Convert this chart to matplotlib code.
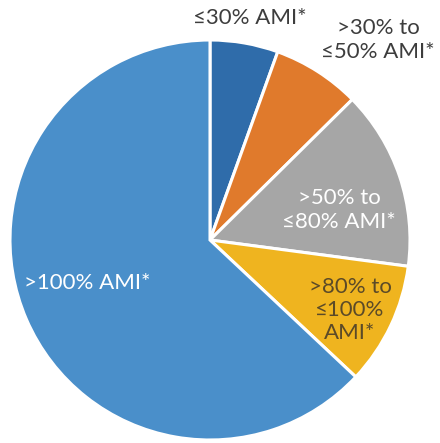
import matplotlib.pyplot as plt

# Income bands and their share (percent)
categorias = ['≤30% AMI*', '>30% to\n≤50% AMI*', '>50% to\n≤80% AMI*',
              '>80% to\n≤100%\nAMI*', '>100% AMI*']
valores = [5.5, 7.1, 14.5, 9.9, 63.0]
colores = ['#2f6caa', '#e07a2c', '#a6a6a6', '#efb41f', '#4a8fca']

# label position (data units, pie radius = 1) and text color
pos_etiquetas = [(0.20, 1.11), (0.84, 1.0), (0.645, 0.15), (0.70, -0.35), (-0.615, -0.215)]
color_texto = ['#3d3d3d', '#3d3d3d', 'white', '#5b4a28', 'white']

plt.rcParams['font.family'] = ['Lato', 'DejaVu Sans']

fig = plt.figure(figsize=(4.4, 4.43), dpi=100)
ax = fig.add_axes([0, 0, 1, 1])

ax.pie(valores, colors=colores, startangle=90, counterclock=False, radius=1.0,
       wedgeprops=dict(edgecolor='white', linewidth=2.2))

for texto, (x, y), c in zip(categorias, pos_etiquetas, color_texto):
    ax.text(x, y, texto, ha='center', va='center', fontsize=16, color=c,
            linespacing=1.2)

ax.set_xlim(-1.05, 1.15)
ax.set_ylim(-1.015, 1.2)
ax.set_aspect('equal')
ax.axis('off')

fig.savefig('out.png', dpi=100)
